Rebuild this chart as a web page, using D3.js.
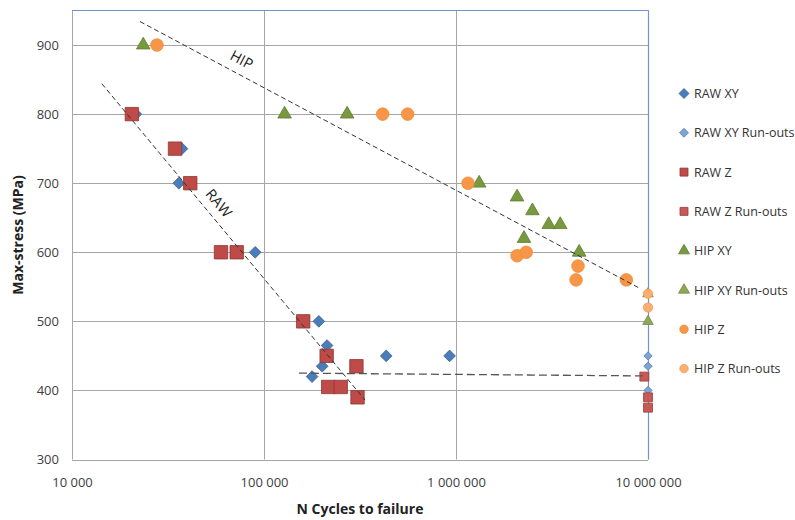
<!DOCTYPE html>
<html><head><meta charset="utf-8">
<script src="https://cdn.jsdelivr.net/npm/d3@7"></script>
<style>
body{margin:0;background:#fff;}
svg{display:block;font-family:"Open Sans",sans-serif;}
</style></head>
<body><svg id="c" width="795" height="520"></svg>
<script>
// ---- data ----
const rawXY_N = [21500, 37400, 36000, 90000, 193000, 213000, 201000, 178000, 433000, 926000];
const rawXY_S = [800, 750, 700, 600, 500, 465, 435, 420, 450, 450];
const rawXYRun_N = [1e7, 1e7, 1e7];
const rawXYRun_S = [450, 435, 400];
const rawZ_N = [20500, 34400, 41300, 59700, 72100, 160000, 212000, 303000, 216000, 251000, 307000];
const rawZ_S = [800, 750, 700, 600, 600, 500, 450, 435, 405, 405, 390];
const rawZRun_N = [9.57e6, 1e7, 1e7];
const rawZRun_S = [420, 390, 375];
const hipXY_N = [23500, 128000, 271000, 1320000, 2080000, 2500000, 3040000, 3490000, 2260000, 4380000];
const hipXY_S = [900, 800, 800, 700, 680, 660, 640, 640, 620, 600];
const hipXYRun_N = [1e7, 1e7];
const hipXYRun_S = [540, 500];
const hipZ_N = [27700, 415000, 560000, 1155000, 2080000, 2320000, 4320000, 4220000, 7710000];
const hipZ_S = [900, 800, 800, 700, 595, 600, 580, 560, 560];
const hipZRun_N = [1e7, 1e7];
const hipZRun_S = [540, 520];

const hipTrend_N = [22600, 8890000];
const hipTrend_S = [934, 549];
const rawTrend_N = [14300, 336000];
const rawTrend_S = [844, 386];
const runTrend_N = [152000, 9400000];
const runTrend_S = [425, 421];

const xTicks = [1e4, 1e5, 1e6, 1e7];
const xTickLabels = ["10 000", "100 000", "1 000 000", "10 000 000"];
const yTicks = [300, 400, 500, 600, 700, 800, 900];
const seriesNames = ["RAW XY", "RAW XY Run-outs", "RAW Z", "RAW Z Run-outs", "HIP XY", "HIP XY Run-outs", "HIP Z", "HIP Z Run-outs"];
const hipLabel = {text: "HIP", N: 76000, S: 877};
const rawLabel = {text: "RAW", N: 57500, S: 670};

// ---- layout ----
const svg = d3.select("#c");
const L = 72, R = 648, T = 10.5, B = 459.5;
const x = d3.scaleLog().domain([1e4, 1e7]).range([L, R]);
const y = d3.scaleLinear().domain([300, 950]).range([B, T]);

svg.append("rect").attr("width", 795).attr("height", 520).attr("fill", "#fff");

// gridlines
const grid = svg.append("g");
grid.selectAll(".hg").data(yTicks).join("line")
  .attr("x1", L).attr("x2", R).attr("y1", d => Math.round(y(d)) + 0.5).attr("y2", d => Math.round(y(d)) + 0.5)
  .attr("stroke", "#a6a6a6").attr("stroke-width", 1);
grid.selectAll(".vg").data(xTicks).join("line")
  .attr("x1", d => Math.round(x(d)) + 0.5).attr("x2", d => Math.round(x(d)) + 0.5).attr("y1", T).attr("y2", B)
  .attr("stroke", "#a6a6a6").attr("stroke-width", 1);
// top and right borders blue
svg.append("line").attr("x1", L).attr("x2", R + 0.5).attr("y1", T).attr("y2", T).attr("stroke", "#6f96c8").attr("stroke-width", 1.2);
svg.append("line").attr("x1", Math.round(R) + 0.5).attr("x2", Math.round(R) + 0.5).attr("y1", T).attr("y2", B)
  .attr("stroke", "#6f96c8").attr("stroke-width", 1.2);

// axes (labels)
const xAxis = d3.axisBottom(x).tickValues(xTicks).tickFormat((d, i) => xTickLabels[i]).tickSize(0).tickPadding(18);
const gx = svg.append("g").attr("transform", `translate(0,${B})`).call(xAxis);
gx.select(".domain").remove();
gx.selectAll("text").attr("font-size", 13).attr("fill", "#404040").attr("font-family", "Open Sans");
const yAxis = d3.axisLeft(y).tickValues(yTicks).tickSize(0).tickPadding(13);
const gy = svg.append("g").attr("transform", `translate(${L},0)`).call(yAxis);
gy.select(".domain").remove();
gy.selectAll("text").attr("font-size", 13).attr("fill", "#404040").attr("font-family", "Open Sans");

// axis titles
svg.append("text").attr("x", (L + R) / 2).attr("y", 514).attr("text-anchor", "middle")
  .attr("font-weight", "bold").attr("font-size", 14).attr("fill", "#222").text("N Cycles to failure");
svg.append("text").attr("transform", "translate(23,235) rotate(-90)").attr("text-anchor", "middle")
  .attr("font-weight", "bold").attr("font-size", 14).attr("fill", "#222").text("Max-stress (MPa)");

// symbols: diamond = square rotated 45deg
const diamond = {
  draw(ctx, size) {
    const r = Math.sqrt(size / 2);
    ctx.moveTo(0, -r); ctx.lineTo(r, 0); ctx.lineTo(0, r); ctx.lineTo(-r, 0); ctx.closePath();
  }
};

// series
const series = [
  {N: rawXY_N, S: rawXY_S, sym: diamond, size: 68, fill: "#4a7ebb", stroke: "#385d8a"},
  {N: rawXYRun_N, S: rawXYRun_S, sym: diamond, size: 34, fill: "#7fa3d2", stroke: "#4a7ebb"},
  {N: rawZ_N, S: rawZ_S, sym: d3.symbolSquare, size: 180, fill: "#be4b48", stroke: "#8c3836"},
  {N: rawZRun_N, S: rawZRun_S, sym: d3.symbolSquare, size: 80, fill: "#c55a57", stroke: "#9c3d3a"},
  {N: hipXY_N, S: hipXY_S, sym: d3.symbolTriangle, size: 80, fill: "#789a3e", stroke: "#5f7a30"},
  {N: hipXYRun_N, S: hipXYRun_S, sym: d3.symbolTriangle, size: 48, fill: "#8ea85a", stroke: "#6f8a40"},
  {N: hipZ_N, S: hipZ_S, sym: d3.symbolCircle, size: 125, fill: "#f79646", stroke: "#f08c3a"},
  {N: hipZRun_N, S: hipZRun_S, sym: d3.symbolCircle, size: 68, fill: "#f9ae72", stroke: "#f59a50"}
];
series.forEach(s => {
  svg.append("g").selectAll("path").data(s.N.map((n, i) => [n, s.S[i]])).join("path")
    .attr("transform", d => `translate(${x(d[0])},${y(d[1])})`)
    .attr("d", d3.symbol(s.sym, s.size)())
    .attr("fill", s.fill).attr("stroke", s.stroke).attr("stroke-width", 0.8);
});

// trend lines
const line = d3.line().x(d => x(d[0])).y(d => y(d[1]));
function trend(N, S, dash, w, col) {
  svg.append("path").attr("d", line(N.map((n, i) => [n, S[i]])))
    .attr("fill", "none").attr("stroke", col).attr("stroke-width", w).attr("stroke-dasharray", dash);
}
trend(hipTrend_N, hipTrend_S, "5,3", 1, "#333");
trend(rawTrend_N, rawTrend_S, "5,3", 1, "#333");
trend(runTrend_N, runTrend_S, "8,4", 1.3, "#555");

function angle(N, S) {
  return Math.atan2(y(S[1]) - y(S[0]), x(N[1]) - x(N[0])) * 180 / Math.PI;
}
[[hipLabel, hipTrend_N, hipTrend_S], [rawLabel, rawTrend_N, rawTrend_S]].forEach(([lab, N, S]) => {
  svg.append("text").attr("transform", `translate(${x(lab.N)},${y(lab.S)}) rotate(${angle(N, S)})`)
    .attr("text-anchor", "middle").attr("dominant-baseline", "middle")
    .attr("font-size", 14.5).attr("fill", "#222").text(lab.text);
});

// legend
const legY0 = 93.5, legDy = 39.3;
const leg = svg.append("g");
seriesNames.forEach((name, i) => {
  const s = series[i];
  const yy = legY0 + i * legDy;
  const sz = [50, 40, 64, 64, 52, 52, 56, 56][i];
  leg.append("path").attr("transform", `translate(684,${yy})`)
    .attr("d", d3.symbol(s.sym, sz)()).attr("fill", s.fill).attr("stroke", s.stroke).attr("stroke-width", 0.8);
  leg.append("text").attr("x", 694).attr("y", yy).attr("dominant-baseline", "central")
    .attr("font-size", 12.5).attr("fill", "#333").text(name);
});
</script></body></html>
